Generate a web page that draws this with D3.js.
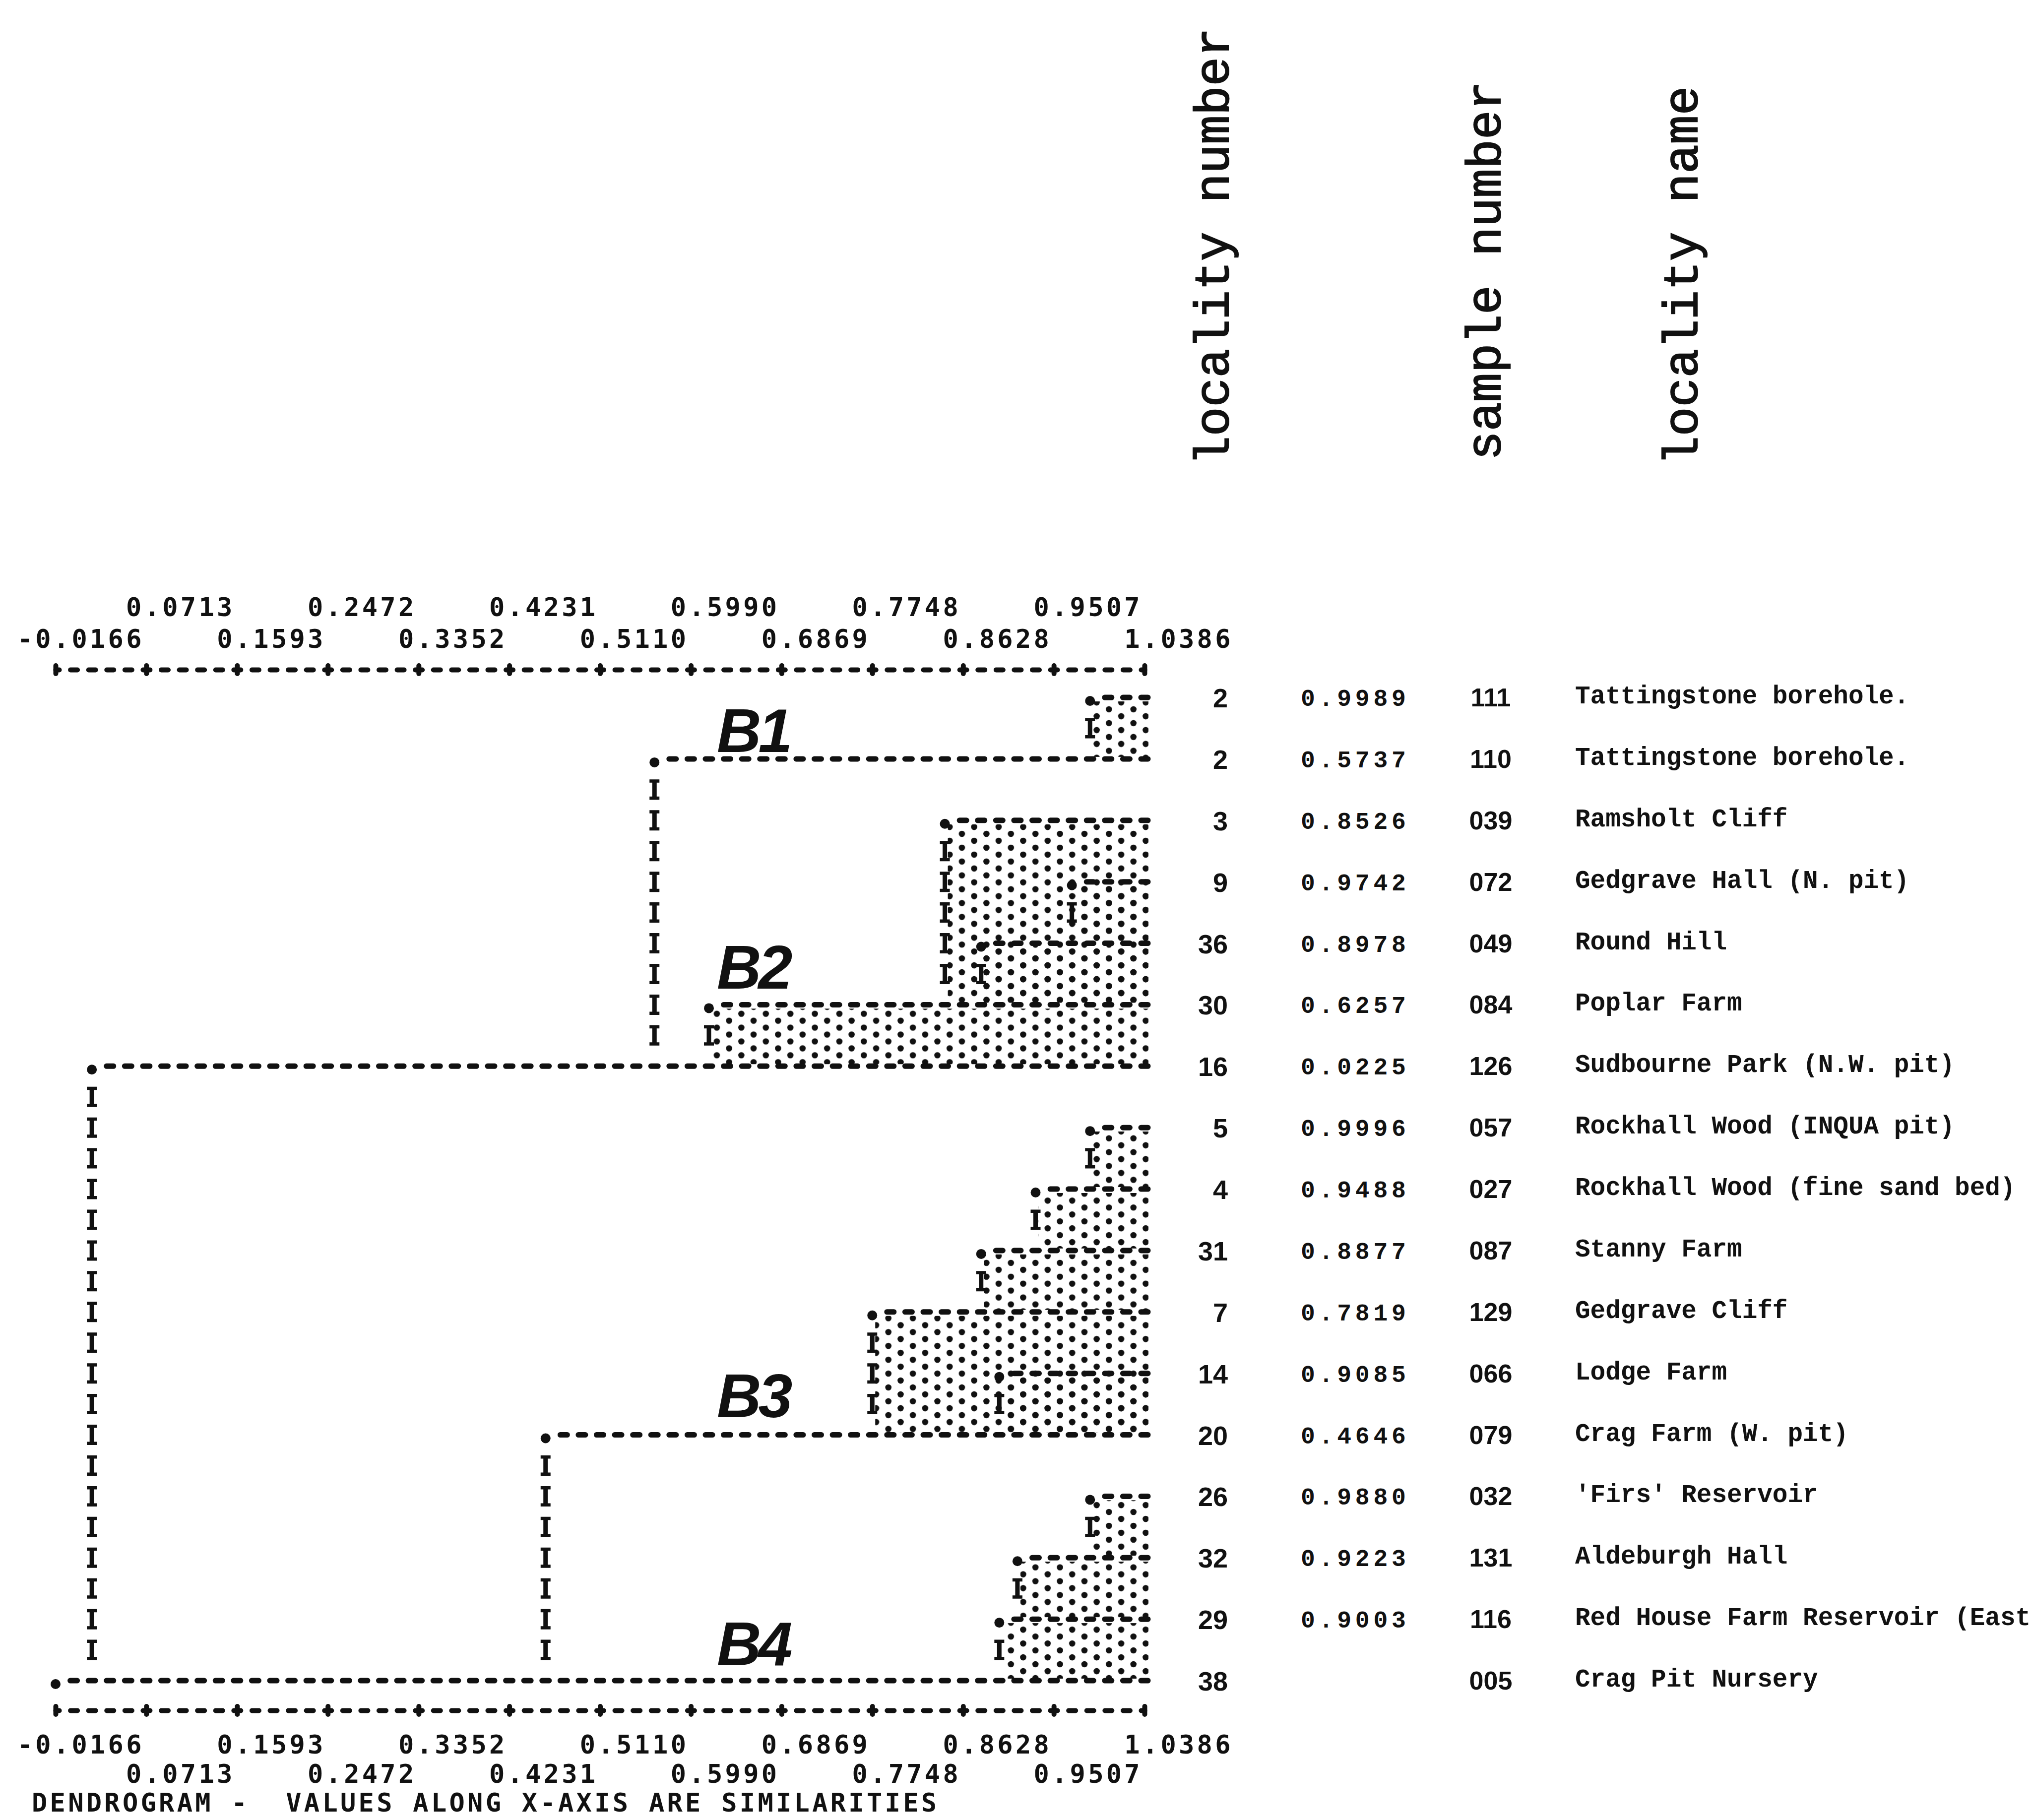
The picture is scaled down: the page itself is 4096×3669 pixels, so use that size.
<!DOCTYPE html>
<html><head><meta charset="utf-8">
<script src="https://cdn.jsdelivr.net/npm/d3@7"></script>
<style>html,body{margin:0;padding:0;background:#fff;overflow:hidden}</style>
</head><body>
<svg id="chart" width="4096" height="3669" xmlns="http://www.w3.org/2000/svg"></svg>
<script>
// ---------------- data ----------------
const localityNumbers = ["2","2","3","9","36","30","16","5","4","31","7","14","20","26","32","29","38"];
const similarities = [0.9989,0.5737,0.8526,0.9742,0.8978,0.6257,0.0225,0.9996,0.9488,0.8877,0.7819,0.9085,0.4646,0.9880,0.9223,0.9003,null];
const sampleNumbers = ["111","110","039","072","049","084","126","057","027","087","129","066","079","032","131","116","005"];
const localityNames = [
  "Tattingstone borehole.","Tattingstone borehole.","Ramsholt Cliff","Gedgrave Hall (N. pit)",
  "Round Hill","Poplar Farm","Sudbourne Park (N.W. pit)","Rockhall Wood (INQUA pit)",
  "Rockhall Wood (fine sand bed)","Stanny Farm","Gedgrave Cliff","Lodge Farm",
  "Crag Farm (W. pit)","'Firs' Reservoir","Aldeburgh Hall","Red House Farm Reservoir (East",
  "Crag Pit Nursery"];
const groupNames = ["B1","B2","B3","B4"];
const groupFirstRow = [0,2,7,13];
const groupLastRow = [1,6,12,16];
const groupLabelRow = [1,5,12,16];
const tickValues = [-0.0166,0.0713,0.1593,0.2472,0.3352,0.4231,0.5110,0.5990,0.6869,0.7748,0.8628,0.9507,1.0386];
const tickLabels = ["-0.0166","0.0713","0.1593","0.2472","0.3352","0.4231","0.5110","0.5990","0.6869","0.7748","0.8628","0.9507","1.0386"];
const headers = ["locality number","sample number","locality name"];
const caption = "DENDROGRAM -  VALUES ALONG X-AXIS ARE SIMILARITIES";

// ---------------- layout ----------------
const svg = d3.select("#chart");
const n = localityNumbers.length;
const nCols = 60;
const x = d3.scaleLinear().domain([tickValues[0], tickValues[tickValues.length-1]]).range([112, 2307]);
const y = d3.scaleLinear().domain([0, n-1]).range([1406, 3388]);
const colStep = (x.domain()[1]-x.domain()[0]) / nCols;
const colPx = x(x.domain()[0]+colStep) - x(x.domain()[0]);
const colOf = v => Math.floor((v - x.domain()[0]) / colStep + 1e-9);
const xCol = c => x(x.domain()[0] + c*colStep);
const halfRow = (y(1)-y(0))/2;
const INK = "#111";
const labelLift = [14, 32, 36, 31];

const groupOf = i => groupFirstRow.findIndex((s,g) => i >= s && i <= groupLastRow[g]);
function joinRow(i){
  let k = i+1;
  while (k < n-1 && similarities[k] >= similarities[i]) k++;
  return k;
}
const rows = d3.range(n).map(i => {
  const s = similarities[i];
  const c = s === null ? 0 : colOf(s);
  const j = i < n-1 ? joinRow(i) : null;
  return {i, s, c, j, shaded: j !== null && groupOf(i) === groupOf(j)};
});

// screentone pattern
const defs = svg.append("defs");
const pat = defs.append("pattern").attr("id","tone").attr("patternUnits","userSpaceOnUse")
  .attr("width",49.4).attr("height",27.9);
pat.append("circle").attr("cx",12.35).attr("cy",7).attr("r",6.3).attr("fill",INK);
pat.append("circle").attr("cx",37.05).attr("cy",21).attr("r",6.3).attr("fill",INK);

// shaded cluster boxes
svg.append("g").selectAll("rect").data(rows.filter(r => r.shaded)).join("rect")
  .attr("x", r => xCol(r.c)+6)
  .attr("y", r => y(r.i)+8)
  .attr("width", r => xCol(nCols) - xCol(r.c) + 2)
  .attr("height", r => y(r.j) - y(r.i) - 12)
  .attr("fill","url(#tone)");

// horizontal lines (printer dashes)
svg.append("g").selectAll("line").data(rows).join("line")
  .attr("x1", r => xCol(r.c+1) - 7)
  .attr("x2", xCol(nCols) + 7)
  .attr("y1", r => y(r.i)).attr("y2", r => y(r.i))
  .attr("stroke", INK).attr("stroke-width", 11)
  .attr("stroke-linecap","round")
  .attr("stroke-dasharray", `14 ${colPx-14}`);

// left-end dots
svg.append("g").selectAll("circle").data(rows).join("circle")
  .attr("cx", r => xCol(r.c)).attr("cy", r => y(r.i)+7).attr("r", 10).attr("fill", INK);

// vertical connectors made of "I" characters
const iPath = "M-10,-20.5 H10 V-14 H4.5 V14 H10 V20.5 H-10 V14 H-4.5 V-14 H-10 Z";
const iMarks = [];
rows.forEach(r => {
  if (r.j === null) return;
  const count = 2*(r.j - r.i) - 1;
  for (let k = 1; k <= count; k++) iMarks.push({cx: xCol(r.c), cy: y(r.i) + k*halfRow});
});
svg.append("g").selectAll("path").data(iMarks).join("path")
  .attr("d", iPath).attr("transform", d => `translate(${d.cx},${d.cy})`).attr("fill", INK);

// cluster labels
svg.append("g").selectAll("text").data(groupNames).join("text")
  .attr("x", 1445).attr("y", (d,g) => y(groupLabelRow[g]) - labelLift[g])
  .attr("font-family","'Liberation Sans', Arial, sans-serif").attr("font-weight","bold")
  .attr("font-style","italic").attr("font-size",124).attr("letter-spacing",-6)
  .attr("fill", INK).text(d => d);

// axes
const monoFont = "'Liberation Mono', 'DejaVu Sans Mono', monospace";
const axisFont = "'DejaVu Sans Mono', 'Liberation Mono', monospace";
const axisFontSize = 52;
const axisSpacing = colPx - 0.602*axisFontSize;
function styleAxis(g, labelY){
  g.attr("font-family", axisFont).attr("font-size", axisFontSize).attr("font-weight","bold");
  g.select(".domain").attr("stroke", INK).attr("stroke-width", 10)
    .attr("stroke-linecap","round").attr("stroke-dasharray", `14 ${colPx-14}`).attr("stroke-dashoffset", 7);
  g.selectAll(".tick line").attr("y1",-8).attr("y2",8).attr("stroke",INK)
    .attr("stroke-width",10).attr("stroke-linecap","round");
  g.selectAll(".tick text").attr("text-anchor","end").attr("x",173 + axisSpacing).attr("dy",0)
    .attr("y", (d,i) => labelY(i)).attr("fill",INK).attr("letter-spacing",axisSpacing);
}
const axTop = d3.axisTop(x).tickValues(tickValues).tickFormat((d,i)=>tickLabels[i])
  .tickSizeInner(0).tickSizeOuter(0).tickPadding(0);
const gTop = svg.append("g").attr("transform","translate(0,1350)").call(axTop);
styleAxis(gTop, i => i%2===0 ? -44 : -108);
const axBot = d3.axisBottom(x).tickValues(tickValues).tickFormat((d,i)=>tickLabels[i])
  .tickSizeInner(0).tickSizeOuter(0).tickPadding(0);
const gBot = svg.append("g").attr("transform","translate(0,3448)").call(axBot);
styleAxis(gBot, i => i%2===0 ? 87 : 146);

// caption
svg.append("text").attr("x",64).attr("y",3652)
  .attr("font-family", axisFont).attr("font-weight","bold").attr("font-size",axisFontSize)
  .attr("letter-spacing",axisSpacing).style("white-space","pre").attr("fill",INK).text(caption);

// column headers (rotated)
const headerX = [2476, 3024, 3421];
const headerY = [938, 928, 938];
svg.append("g").selectAll("text").data(headers).join("text")
  .attr("transform",(d,k)=>`translate(${headerX[k]},${headerY[k]}) rotate(-90)`)
  .attr("font-family", monoFont).attr("font-size",98).attr("fill",INK)
  .attr("stroke",INK).attr("stroke-width",2).text(d=>d);

// table columns
const tbl = svg.append("g");
tbl.selectAll(".loc").data(localityNumbers).join("text").attr("class","loc")
  .attr("x",2475).attr("y",(d,i)=>y(i)+20).attr("text-anchor","end")
  .attr("font-family","'Liberation Sans', Arial, sans-serif").attr("font-weight","bold")
  .attr("font-size",54).attr("fill",INK).text(d=>d);
const fmt = d3.format(".4f");
tbl.selectAll(".sim").data(similarities).join("text").attr("class","sim")
  .attr("x",2622).attr("y",(d,i)=>y(i)+17)
  .attr("font-family", monoFont).attr("font-weight","bold").attr("font-size",48).attr("letter-spacing",7.8)
  .attr("fill",INK).text(d => d === null ? "" : fmt(d));
tbl.selectAll(".smp").data(sampleNumbers).join("text").attr("class","smp")
  .attr("x",3005).attr("y",(d,i)=>y(i)+18).attr("text-anchor","middle")
  .attr("font-family","'Liberation Sans', Arial, sans-serif").attr("font-weight","bold")
  .attr("font-size",52).attr("fill",INK).text(d=>d);
tbl.selectAll(".nm").data(localityNames).join("text").attr("class","nm")
  .attr("x",3175).attr("y",(d,i)=>y(i)+12)
  .attr("font-family", monoFont).attr("font-weight","bold").attr("font-size",51)
  .style("white-space","pre").attr("fill",INK).text(d=>d);
</script>
</body></html>
